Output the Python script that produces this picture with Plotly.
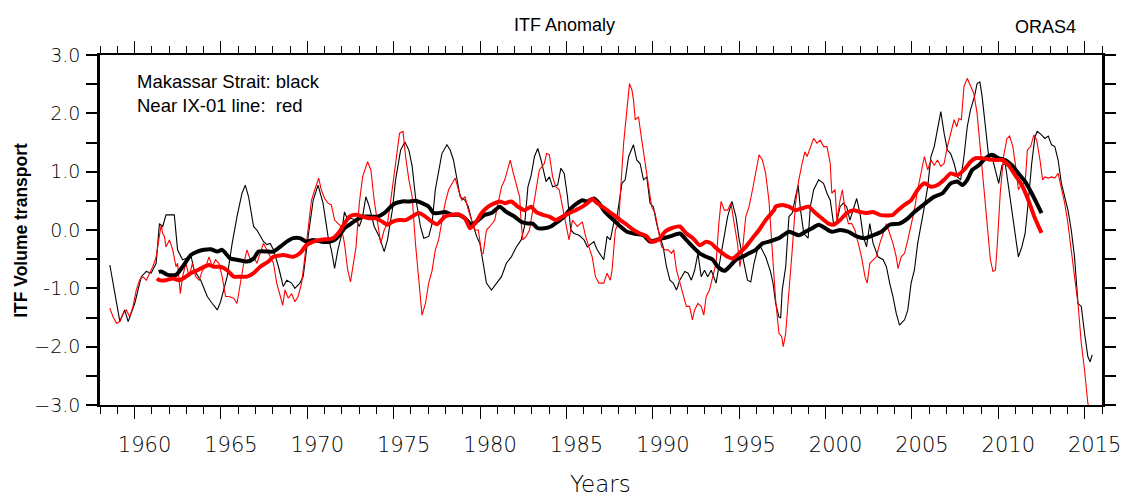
import plotly.graph_objects as go

# ---------------- data ----------------
blk_thin_yr = [1958.57,1959.15,1959.43,1959.63,1960.01,1960.39,1960.68,1960.96,1961.25,1961.44,1961.63,1961.82,1962.30,1962.49,1962.78,1962.97,1963.26,1963.45,1963.83,1964.21,1964.50,1964.79,1964.98,1965.36,1965.65,1965.93,1966.22,1966.41,1966.60,1966.89,1967.08,1967.27,
 1967.47,1967.66,1967.85,1968.04,1968.33,1968.61,1968.81,1969.09,1969.28,1969.57,1969.76,1970.05,1970.34,1970.62,1970.91,1971.2,1971.39,1971.58,1971.77,1971.96,1972.15,1972.34,1972.53,1972.82,1973.01,1973.2,1973.39,1973.59,1973.87,1974.16,1974.45,1974.64,1974.92,1975.11,1975.4,1975.65,1975.88,1976.07,1976.26,1976.55,1976.74,1977.03,1977.22,
 1977.41,1977.79,1978.08,1978.27,1978.46,1978.65,1978.85,1979.13,1979.32,1979.51,1979.8,1979.99,1980.18,1980.37,1980.66,1980.95,1981.24,1981.52,1981.81,1982.1,1982.38,1982.57,1982.77,1982.96,1983.15,1983.34,1983.53,1983.82,1984.01,1984.2,1984.49,1984.68,1984.87,1985.06,1985.25,1985.44,1985.73,1986.02,1986.21,1986.59,1986.78,
 1987.16,1987.35,1987.54,1987.73,1987.93,1988.21,1988.4,1988.6,1988.88,1989.07,1989.26,1989.46,1989.65,1989.84,1990.03,1990.22,1990.41,1990.6,1990.79,1990.99,1991.18,1991.37,1991.56,1991.85,1992.04,1992.23,1992.42,1992.61,1992.8,1992.99,1993.18,1993.38,1993.66,1993.85,1994.04,1994.33,1994.58,1994.81,1995.0,1995.19,1995.48,1995.67,1995.86,1996.05,1996.24,1996.53,
 1996.8,1996.95,1997.11,1997.3,1997.4,1997.49,1997.69,1997.88,1998.07,1998.26,1998.41,1998.55,1998.74,1998.99,1999.12,1999.31,1999.6,1999.88,2000.08,2000.27,2000.46,2000.65,2000.84,2001.03,2001.22,2001.41,2001.61,2001.8,2001.99,2002.18,2002.37,2002.56,2002.75,2003.04,2003.33,2003.52,2003.71,2003.9,2004.09,2004.28,2004.57,2004.76,2004.95,2005.14,2005.33,2005.53,2005.72,2005.91,2006.1,2006.29,2006.48,2006.67,
 2006.86,2007.05,2007.24,2007.44,2007.63,2007.82,2008.01,2008.2,2008.39,2008.62,2008.77,2008.93,2009.06,2009.25,2009.44,2009.63,2009.83,2010.02,2010.21,2010.4,2010.59,2010.78,2010.97,2011.16,2011.36,2011.55,2011.74,2011.93,2012.12,2012.25,2012.5,2012.69,2012.89,2013.08,2013.27,2013.46,2013.65,2013.84,2014.03,2014.22,2014.41,2014.61,2014.8,2014.99,2015.18,2015.31,2015.43]
blk_thin_val = [-0.6,-1.57,-1.37,-1.57,-1.26,-0.8,-0.71,-0.74,-0.57,0.11,0.06,0.26,0.26,-0.34,-0.51,-0.49,-0.43,-0.69,-0.86,-1.14,-1.26,-1.37,-1.23,-0.8,-0.23,0.23,0.63,0.77,0.57,0.06,0.0,-0.11,
 -0.2,-0.25,-0.23,-0.34,-0.63,-0.97,-0.86,-0.91,-1.0,-0.91,-0.8,-0.11,0.51,0.77,0.46,-0.11,-0.34,-0.66,-0.34,-0.11,0.31,0.17,0.2,0.17,0.06,0.23,0.57,0.4,0.06,-0.11,-0.37,-0.17,0.34,0.86,1.37,1.51,1.37,1.09,0.57,0.06,-0.14,-0.11,0.11,
 0.69,1.31,1.46,1.37,1.2,0.91,0.57,0.51,0.4,0.17,-0.11,-0.23,-0.57,-0.91,-1.03,-0.91,-0.8,-0.57,-0.46,-0.29,-0.17,0.06,0.74,0.94,1.26,1.4,1.2,0.83,0.91,0.74,0.77,1.06,0.97,0.57,0.0,-0.06,-0.09,-0.17,-0.29,-0.2,-0.34,
 -0.51,-0.11,-0.17,0.11,0.23,0.8,0.86,1.26,1.46,1.2,1.14,0.86,0.91,0.46,0.4,0.11,-0.11,-0.29,-0.63,-0.86,-0.91,-1.03,-0.86,-0.71,-0.74,-0.86,-0.69,-0.4,-0.8,-0.69,-0.8,-0.69,-0.91,-0.57,-0.23,0.23,0.49,0.23,-0.17,-0.46,-0.86,-0.89,-0.57,-0.34,-0.29,-0.46,
 -0.7,-0.9,-1.26,-1.49,-1.51,-1.03,-0.63,0.23,0.29,0.57,0.77,0.34,-0.06,-0.14,0.4,0.69,0.86,0.8,0.63,0.51,0.11,0.14,0.4,0.46,0.4,0.17,0.34,0.54,0.29,-0.11,-0.29,0.11,-0.23,-0.46,-0.51,-0.63,-0.91,-1.14,-1.43,-1.63,-1.54,-1.37,-0.91,-0.69,-0.23,0.06,0.4,0.74,1.26,1.43,1.71,2.03,
 1.66,1.37,1.31,1.14,0.91,0.86,1.26,1.77,2.06,2.29,2.51,2.54,2.29,1.77,1.26,1.26,1.03,0.8,1.11,1.14,0.74,0.34,0.0,-0.46,-0.29,-0.06,0.51,1.14,1.6,1.69,1.63,1.57,1.61,1.46,1.43,1.2,0.8,0.57,0.34,0.0,-0.46,-1.26,-1.31,-1.77,-2.17,-2.26,-2.14]

red_thin_yr = [1958.57,1958.76,1958.96,1959.15,1959.34,1959.53,1959.72,1959.91,1960.1,1960.29,1960.49,1960.68,1960.87,1961.06,1961.25,1961.44,1961.54,1961.63,1961.73,1961.82,1962.02,1962.21,1962.4,1962.49,1962.65,1962.78,1962.97,1963.16,1963.35,1963.54,1963.74,1963.93,1964.12,1964.31,1964.5,1964.69,1964.88,1965.07,1965.27,1965.46,1965.74,1965.93,1966.13,1966.32,1966.51,1966.7,1966.89,1967.08,1967.27,1967.46,
 1967.66,1967.85,1968.04,1968.23,1968.42,1968.58,1968.71,1968.9,1969.09,1969.28,1969.47,1969.67,1969.86,1970.05,1970.24,1970.43,1970.66,1970.81,1971.0,1971.2,1971.39,1971.58,1971.77,1971.96,1972.15,1972.34,1972.5,1972.63,1972.82,1973.01,1973.2,1973.49,1973.68,1973.87,1974.06,1974.25,1974.45,1974.64,1974.83,1975.02,1975.21,1975.34,1975.54,1975.69,1975.88,1976.07,1976.26,1976.45,1976.64,1976.84,1977.03,1977.22,
 1977.41,1977.6,1977.79,1977.98,1978.18,1978.37,1978.56,1978.75,1978.94,1979.13,1979.32,1979.51,1979.71,1979.9,1980.09,1980.18,1980.37,1980.57,1980.85,1981.04,1981.24,1981.43,1981.58,1981.75,1981.9,1982.1,1982.29,1982.38,1982.48,1982.67,1982.86,1983.05,1983.24,1983.43,1983.72,1983.85,1984.01,1984.2,1984.39,1984.58,1984.77,1984.96,1985.15,1985.35,1985.63,1985.92,1986.11,1986.3,1986.49,1986.68,1986.88,
 1987.16,1987.35,1987.54,1987.64,1987.83,1988.02,1988.16,1988.31,1988.46,1988.65,1988.79,1988.88,1988.98,1989.17,1989.36,1989.55,1989.74,1989.93,1990.13,1990.32,1990.51,1990.7,1990.89,1991.08,1991.21,1991.37,1991.56,1991.75,1991.94,1992.13,1992.29,1992.42,1992.61,1992.8,1992.95,1993.09,1993.28,1993.47,1993.66,1993.82,1993.95,1994.14,1994.33,1994.52,1994.71,1994.9,1995.04,1995.19,1995.38,1995.57,1995.77,1995.96,1996.15,1996.34,1996.53,1996.72,1996.87,
 1996.97,1997.11,1997.3,1997.46,1997.55,1997.69,1997.88,1998.07,1998.26,1998.45,1998.64,1998.8,1998.93,1999.12,1999.31,1999.5,1999.69,1999.89,2000.08,2000.27,2000.36,2000.55,2000.65,2000.84,2000.97,2001.13,2001.32,2001.51,2001.7,2001.89,2002.08,2002.28,2002.41,2002.56,2002.75,2002.94,2003.14,2003.33,2003.52,2003.71,2003.9,2004.09,2004.19,2004.38,2004.57,2004.76,2004.95,2005.14,2005.33,2005.53,2005.72,2005.91,2006.1,2006.29,2006.48,2006.67,
 2006.86,2007.05,2007.24,2007.44,2007.59,2007.72,2007.86,2008.01,2008.2,2008.39,2008.58,2008.77,2008.97,2009.16,2009.35,2009.54,2009.69,2009.83,2009.92,2010.11,2010.3,2010.5,2010.65,2010.84,2011.03,2011.16,2011.36,2011.55,2011.68,2011.87,2012.06,2012.22,2012.41,2012.56,2012.69,2012.89,2013.08,2013.27,2013.46,2013.65,2013.84,2014.03,2014.22,2014.41,2014.61,2014.8,2014.99,2015.18,2015.3]
red_thin_val = [-1.34,-1.49,-1.6,-1.57,-1.43,-1.37,-1.49,-1.31,-1.03,-0.86,-0.8,-0.86,-0.74,-0.63,-0.46,-0.11,0.09,-0.06,-0.11,-0.29,-0.17,-0.34,-0.63,-0.57,-1.09,-0.8,-0.57,-0.8,-0.57,-0.8,-0.86,-0.69,-0.63,-0.46,-0.63,-0.51,-0.57,-0.8,-1.14,-1.14,-1.17,-1.26,-0.91,-0.57,-0.34,-0.51,-0.46,-0.57,-0.4,-0.23,
 -0.34,-0.46,-0.57,-0.91,-1.14,-1.29,-1.03,-1.17,-1.09,-1.23,-1.14,-0.91,-0.46,0.06,0.51,0.69,0.89,0.69,0.54,0.46,0.43,0.17,0.11,0.06,-0.23,-0.69,-0.89,-0.63,-0.29,0.46,0.91,1.17,1.03,0.51,0.11,-0.23,0.0,0.11,0.51,0.97,1.43,1.66,1.69,1.26,0.86,0.57,-0.23,-0.91,-1.46,-1.26,-0.9,-0.7,
 -0.34,-0.17,0.17,0.46,0.69,0.8,0.89,0.69,0.51,0.57,0.34,0.17,0.0,0.0,-0.4,-0.4,0.0,0.06,0.17,0.46,0.74,0.86,1.03,1.2,1.0,0.8,0.57,0.11,-0.17,-0.11,0.0,0.34,0.69,1.03,1.14,1.31,1.29,0.91,0.74,0.69,0.4,0.11,-0.17,0.17,0.06,0.14,-0.11,-0.29,-0.46,-0.8,-0.91,
 -0.91,-0.74,-0.86,-0.69,0.0,0.11,0.8,1.49,1.94,2.51,2.4,2.23,1.89,1.94,1.54,1.14,0.8,0.4,0.29,0.0,-0.29,-0.34,-0.34,-0.4,-0.34,-0.69,-0.91,-1.09,-1.31,-1.31,-1.54,-1.37,-1.26,-1.31,-1.46,-1.14,-1.03,-0.8,-0.57,0.11,0.49,0.34,0.34,0.46,0.11,-0.23,-0.63,-0.34,0.23,0.4,0.69,0.97,1.29,1.2,0.97,0.51,-0.06,
 -0.6,-1.2,-1.77,-1.83,-2.0,-1.77,-1.09,-0.34,0.46,0.86,1.14,1.34,1.26,1.4,1.57,1.49,1.54,1.43,1.43,1.14,0.63,0.69,0.17,0.51,0.69,0.34,0.11,0.11,0.0,-0.23,-0.46,-0.8,-0.91,-0.57,-0.51,-0.46,-0.23,-0.06,0.11,-0.06,-0.23,-0.46,-0.66,-0.46,-0.4,-0.17,0.06,0.34,0.69,0.97,1.26,1.03,1.2,1.11,1.2,1.09,
 1.14,1.43,1.66,1.89,1.77,1.91,1.89,2.46,2.6,2.46,2.34,2.0,1.37,0.69,0.11,-0.51,-0.71,-0.69,-0.34,0.63,1.26,1.57,1.61,1.43,1.03,0.69,0.8,0.8,1.37,1.43,1.63,1.54,1.2,0.86,0.91,0.89,0.91,0.89,0.97,0.74,0.46,0.11,-0.4,-0.8,-1.26,-1.94,-2.4,-2.97,-3.1]

blk_smooth_yr = [1961.4,1961.54,1961.92,1962.4,1962.78,1963.26,1963.64,1964.02,1964.41,1964.79,1965.07,1965.55,1965.93,1966.51,1966.89,1967.18,1967.75,1968.04,1968.42,1968.81,1969.19,1969.57,1969.95,1970.34,1970.81,1971.29,1971.58,1971.86,1972.15,1972.44,1972.82,1973.2,1973.59,1974.06,1974.45,1974.83,1975.11,1975.5,1975.88,1976.26,1976.64,1977.03,1977.31,1977.6,1977.98,1978.37,1978.75,1979.13,1979.51,1979.9,1980.28,1980.66,1981.14,1981.52,1982.0,1982.38,1982.77,1983.05,1983.34,1983.72,1984.1,1984.49,1984.87,1985.25,1985.63,1985.92,1986.21,1986.59,1986.88,1987.26,1987.73,1988.12,1988.5,1988.88,1989.46,1989.84,1990.22,1990.6,1990.99,1991.56,1991.94,1992.32,1992.71,1993.09,1993.47,1993.76,1994.14,1994.43,1994.81,1995.19,1995.57,1995.96,1996.34,1996.72,1997.01,1997.3,1997.88,1998.45,1998.83,1999.22,1999.6,1999.98,2000.36,2000.84,2001.32,2001.8,2002.28,2002.75,2003.23,2003.71,2004.28,2004.76,2005.14,2005.53,2005.91,2006.29,2006.77,2007.24,2007.63,2007.91,2008.2,2008.49,2008.87,2009.25,2009.63,2010.02,2010.4,2010.78,2011.16,2011.55,2011.93,2012.22,2012.5]
blk_smooth_val = [-0.72,-0.71,-0.77,-0.77,-0.63,-0.43,-0.37,-0.34,-0.33,-0.37,-0.34,-0.49,-0.51,-0.54,-0.49,-0.37,-0.37,-0.37,-0.29,-0.2,-0.14,-0.14,-0.2,-0.17,-0.2,-0.2,-0.17,-0.09,0.03,0.09,0.17,0.23,0.23,0.23,0.29,0.4,0.46,0.49,0.49,0.5,0.46,0.4,0.29,0.29,0.31,0.26,0.26,0.2,0.09,0.17,0.26,0.29,0.4,0.31,0.23,0.14,0.11,0.11,0.03,0.03,0.06,0.14,0.23,0.37,0.46,0.51,0.49,0.54,0.46,0.3,0.17,0.06,-0.03,-0.06,-0.09,-0.2,-0.17,-0.14,-0.11,-0.06,-0.17,-0.29,-0.4,-0.46,-0.51,-0.63,-0.7,-0.63,-0.51,-0.46,-0.4,-0.34,-0.23,-0.2,-0.17,-0.14,-0.03,-0.09,-0.03,0.03,0.09,0.03,-0.03,0.0,-0.03,-0.11,-0.14,-0.09,-0.03,0.09,0.11,0.2,0.31,0.4,0.49,0.57,0.63,0.8,0.83,0.77,0.86,1.03,1.11,1.23,1.29,1.23,1.2,1.11,0.97,0.83,0.63,0.46,0.29]

red_smooth_yr = [1961.3,1961.44,1961.82,1962.21,1962.59,1962.97,1963.26,1963.64,1964.02,1964.31,1964.6,1964.98,1965.36,1965.74,1966.13,1966.51,1966.89,1967.27,1967.75,1968.04,1968.61,1969.19,1969.57,1969.95,1970.34,1970.72,1971.1,1971.48,1971.86,1972.15,1972.44,1972.82,1973.2,1973.59,1973.97,1974.35,1974.64,1974.92,1975.31,1975.69,1976.07,1976.45,1976.84,1977.22,1977.5,1977.98,1978.37,1978.75,1979.13,1979.42,1979.71,1980.09,1980.47,1980.85,1981.14,1981.43,1981.81,1982.19,1982.57,1982.96,1983.24,1983.63,1984.01,1984.39,1984.77,1985.15,1985.54,1985.92,1986.21,1986.49,1986.78,1987.07,1987.35,1987.73,1988.12,1988.5,1988.88,1989.26,1989.65,1989.93,1990.32,1990.7,1991.08,1991.56,1991.94,1992.32,1992.71,1993.09,1993.38,1993.66,1994.04,1994.33,1994.62,1995.0,1995.38,1995.77,1996.15,1996.53,1997.01,1997.11,1997.49,1997.88,1998.26,1998.64,1999.02,1999.41,1999.79,2000.17,2000.46,2000.84,2001.22,2001.61,2001.99,2002.37,2002.75,2003.14,2003.52,2003.9,2004.19,2004.57,2004.95,2005.33,2005.72,2006.1,2006.48,2006.86,2007.24,2007.63,2008.01,2008.39,2008.68,2009.06,2009.44,2009.83,2010.21,2010.59,2010.97,2011.36,2011.74,2012.12,2012.5]
red_smooth_val = [-0.83,-0.86,-0.86,-0.83,-0.86,-0.8,-0.74,-0.69,-0.63,-0.6,-0.63,-0.63,-0.69,-0.8,-0.8,-0.8,-0.74,-0.63,-0.54,-0.46,-0.43,-0.46,-0.4,-0.26,-0.2,-0.17,-0.16,-0.14,-0.03,0.11,0.23,0.26,0.23,0.2,0.2,0.14,0.09,0.14,0.17,0.17,0.23,0.29,0.23,0.14,0.1,0.23,0.26,0.27,0.2,0.03,0.11,0.29,0.4,0.46,0.49,0.46,0.49,0.4,0.34,0.4,0.31,0.26,0.23,0.17,0.23,0.29,0.34,0.4,0.46,0.53,0.46,0.4,0.34,0.26,0.17,0.09,0.0,-0.06,-0.11,-0.2,-0.17,-0.03,0.03,0.06,-0.06,-0.14,-0.26,-0.2,-0.23,-0.31,-0.4,-0.46,-0.49,-0.4,-0.29,-0.14,0.0,0.17,0.34,0.4,0.43,0.4,0.34,0.37,0.4,0.29,0.2,0.11,0.09,0.17,0.29,0.34,0.31,0.29,0.31,0.26,0.25,0.26,0.34,0.43,0.51,0.69,0.8,0.74,0.77,0.86,0.97,0.94,1.03,1.17,1.23,1.23,1.21,1.2,1.2,1.11,0.94,0.77,0.51,0.2,-0.05]

x_ticks = [1960, 1965, 1970, 1975, 1980, 1985, 1990, 1995, 2000, 2005, 2010, 2015]
y_ticks = [-3, -2, -1, 0, 1, 2, 3]
y_ticktext = ["\u22123.0", "\u22122.0", "-1.0", "0.0", "1.0", "2.0", "3.0"]

# ---------------- figure ----------------
fig = go.Figure()
fig.add_trace(go.Scatter(x=blk_thin_yr, y=blk_thin_val, mode="lines",
                         line=dict(color="black", width=1.1), showlegend=False))
fig.add_trace(go.Scatter(x=red_thin_yr, y=red_thin_val, mode="lines",
                         line=dict(color="#ff0000", width=1.1), showlegend=False))
fig.add_trace(go.Scatter(x=blk_smooth_yr, y=blk_smooth_val, mode="lines",
                         line=dict(color="black", width=4, shape="spline", smoothing=0.6),
                         showlegend=False))
fig.add_trace(go.Scatter(x=red_smooth_yr, y=red_smooth_val, mode="lines",
                         line=dict(color="#ff0000", width=4, shape="spline", smoothing=0.6),
                         showlegend=False))

tick_font = dict(family="DejaVu Sans", color="black", weight=200)
fig.update_xaxes(range=[1958, 2016], tickvals=x_ticks, ticks="outside", ticklen=12,
                 tickwidth=1.3, tickcolor="black", showline=True, linewidth=2,
                 linecolor="black", mirror="allticks", showgrid=False, zeroline=False,
                 tickfont=dict(size=21, **tick_font), ticklabelshift=10,
                 ticklabelstandoff=8,
                 minor=dict(dtick=1, ticks="outside", ticklen=7, tickwidth=1.3,
                            tickcolor="black", showgrid=False))
fig.update_yaxes(range=[-3, 3], tickvals=y_ticks, ticktext=y_ticktext, ticks="outside",
                 ticklen=11, tickwidth=1.6, tickcolor="black", showline=True,
                 linewidth=2.5, linecolor="black", mirror="allticks", showgrid=False,
                 zeroline=False, tickfont=dict(size=19, **tick_font),
                 ticklabelstandoff=2,
                 minor=dict(dtick=0.5, ticks="outside", ticklen=11, tickwidth=1.6,
                            tickcolor="black", showgrid=False))

txt = dict(family="Liberation Sans, Arial, sans-serif", color="black")
fig.update_layout(
    width=1133, height=498,
    margin=dict(l=100, r=22, t=55, b=93),
    paper_bgcolor="white", plot_bgcolor="white",
    annotations=[
        dict(text="ITF Anomaly", xref="paper", yref="paper", x=0.464, y=1.0857,
             xanchor="center", yanchor="middle", showarrow=False, font=dict(size=18, **txt)),
        dict(text="ORAS4", xref="paper", yref="paper", x=0.9436, y=1.0786,
             xanchor="center", yanchor="middle", showarrow=False, font=dict(size=18, **txt)),
        dict(text="Makassar Strait: black", xref="paper", yref="paper", x=0.0346, y=0.923,
             xanchor="left", yanchor="middle", showarrow=False, font=dict(size=18.5, **txt)),
        dict(text="Near IX-01 line:&nbsp; red", xref="paper", yref="paper", x=0.0346, y=0.857,
             xanchor="left", yanchor="middle", showarrow=False, font=dict(size=18.5, **txt)),
        dict(text="<b>ITF Volume transport</b>", xref="paper", yref="paper", x=-0.079, y=0.5,
             xanchor="center", yanchor="middle", textangle=-90, showarrow=False,
             font=dict(size=17.5, **txt)),
        dict(text="Years", xref="paper", yref="paper", x=0.4995, y=-0.226,
             xanchor="center", yanchor="middle", showarrow=False,
             font=dict(size=23, family="DejaVu Sans", color="black", weight=200)),
    ],
)

fig.write_html("out.html")
